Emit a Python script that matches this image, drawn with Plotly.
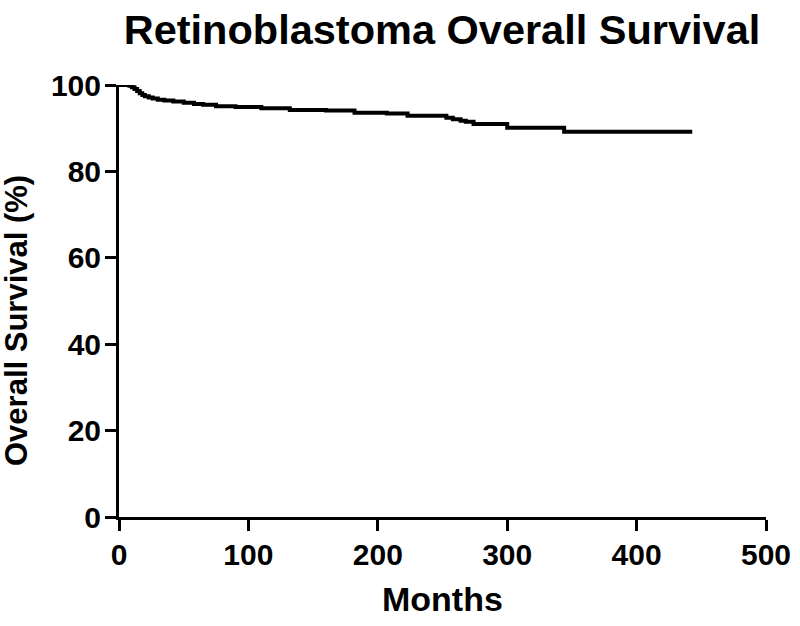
import plotly.graph_objects as go

# Kaplan-Meier overall survival
months = [0, 5, 8, 10, 12, 14, 16, 18, 20, 23, 26, 30, 35, 42, 50, 58, 65, 75,
          90, 110, 132, 160, 182, 207, 223, 253, 258, 264, 268, 274, 300, 344, 443]
survival = [100, 100, 99.8, 99.5, 99.1, 98.6, 98.1, 97.7, 97.4, 97.1, 96.9, 96.6,
            96.4, 96.2, 95.9, 95.6, 95.4, 95.1, 94.9, 94.6, 94.2, 94.1, 93.6, 93.4,
            92.9, 92.4, 92.1, 91.7, 91.5, 91.0, 90.1, 89.2, 89.2]

x_ticks = [0, 100, 200, 300, 400, 500]
y_ticks = [0, 20, 40, 60, 80, 100]

title_text = "Retinoblastoma Overall Survival"
x_title = "Months"
y_title = "Overall Survival (%)"

FONT = "Liberation Sans"

fig = go.Figure()
fig.add_trace(go.Scatter(
    x=months, y=survival, mode="lines",
    line=dict(color="black", width=4, shape="hv"),
    cliponaxis=False, showlegend=False, hoverinfo="skip",
))

fig.update_layout(
    width=800, height=626,
    margin=dict(l=119, r=34, t=85, b=109, autoexpand=False),
    paper_bgcolor="white", plot_bgcolor="white",
    title=dict(
        text="<b>" + title_text + "</b>",
        x=0.5525, xref="container", xanchor="center",
        y=1 - 29 / 626, yref="container", yanchor="middle",
        font=dict(family=FONT, size=41.5, color="black"),
    ),
    font=dict(family=FONT, color="black"),
    annotations=[
        dict(text="<b>" + x_title + "</b>", xref="paper", yref="paper",
             x=0.5, y=0, xanchor="center", yanchor="middle", yshift=-82,
             showarrow=False, font=dict(family=FONT, size=34, color="black")),
        dict(text="<b>" + y_title + "</b>", xref="paper", yref="paper",
             x=0, y=(517 - 321) / 432, xanchor="center", yanchor="middle",
             xshift=-103, textangle=-90,
             showarrow=False, font=dict(family=FONT, size=31, color="black")),
    ],
)

axis_common = dict(
    showgrid=False, zeroline=False, showline=True, linecolor="black", linewidth=3,
    ticks="outside", ticklen=11, tickwidth=3, tickcolor="black",
    tickfont=dict(family=FONT, size=30, color="black", weight="bold"),
)

fig.update_xaxes(range=[0, 500], tickvals=x_ticks,
                 ticktext=[str(v) for v in x_ticks], ticklabelstandoff=-2, **axis_common)
fig.update_yaxes(range=[0, 100], tickvals=y_ticks,
                 ticktext=[str(v) for v in y_ticks], ticklabelstandoff=-2, **axis_common)

fig.write_html("out.html", config={"displayModeBar": False},
               post_script="document.body.style.margin='0';document.body.style.overflow='hidden';")
